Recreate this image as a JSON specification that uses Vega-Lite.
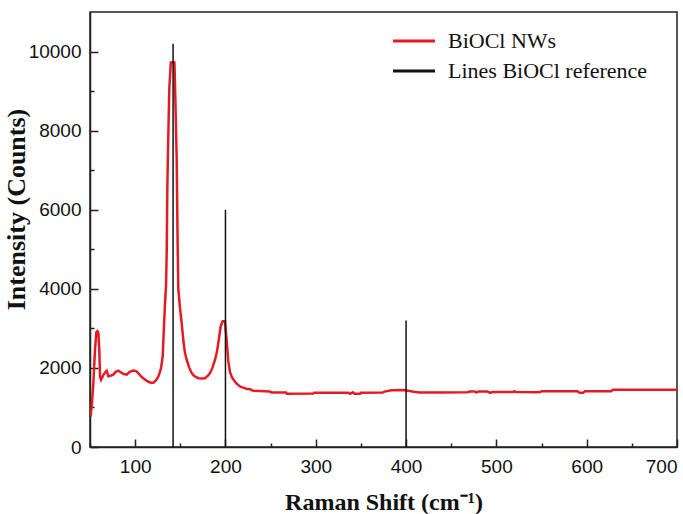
{
  "$schema": "https://vega.github.io/schema/vega-lite/v6.json",
  "width": 587,
  "height": 435,
  "autosize": {"type": "none"},
  "padding": {"left": 90, "top": 12, "right": 6, "bottom": 67},
  "background": "white",
  "config": {
    "view": {"stroke": "#222", "strokeWidth": 1.5},
    "axis": {
      "domainColor": "#222",
      "domainWidth": 1.5,
      "tickColor": "#222",
      "tickWidth": 1.5,
      "grid": false,
      "labelFont": "Liberation Sans",
      "labelFontSize": 19,
      "labelColor": "#111",
      "titleFont": "Liberation Serif",
      "titleFontWeight": "bold",
      "titleColor": "#111"
    },
    "legend": {
      "orient": "none",
      "legendX": 312,
      "legendY": 17,
      "labelFont": "Liberation Serif",
      "labelFontSize": 22,
      "labelColor": "#111",
      "labelLimit": 0,
      "labelOffset": 22,
      "symbolType": "M-2,0H2",
      "symbolSize": 441,
      "symbolStrokeWidth": 3,
      "rowPadding": 7,
      "title": null
    }
  },
  "datasets": {
    "spectrum": [
      {"x": 50.5, "y": 770}, {"x": 51.9, "y": 1020}, {"x": 53.7, "y": 1610}, {"x": 55.5, "y": 2450},
      {"x": 57.0, "y": 2900}, {"x": 58.2, "y": 2930}, {"x": 59.3, "y": 2880}, {"x": 60.3, "y": 2450},
      {"x": 61.1, "y": 1780}, {"x": 62.2, "y": 1700}, {"x": 63.5, "y": 1760}, {"x": 64.7, "y": 1820},
      {"x": 66.5, "y": 1880}, {"x": 68.5, "y": 1930}, {"x": 70.3, "y": 1790}, {"x": 72.5, "y": 1800},
      {"x": 75.8, "y": 1830}, {"x": 78.5, "y": 1900}, {"x": 81.3, "y": 1930}, {"x": 84, "y": 1890},
      {"x": 87, "y": 1850}, {"x": 90.6, "y": 1830}, {"x": 94, "y": 1900}, {"x": 97.9, "y": 1935},
      {"x": 101, "y": 1920}, {"x": 103.5, "y": 1870}, {"x": 106, "y": 1800}, {"x": 109, "y": 1740},
      {"x": 112, "y": 1690}, {"x": 114.6, "y": 1650}, {"x": 118.3, "y": 1620}, {"x": 120.5, "y": 1630},
      {"x": 122, "y": 1660}, {"x": 124, "y": 1720}, {"x": 125.6, "y": 1780}, {"x": 127, "y": 1870},
      {"x": 128.6, "y": 1990}, {"x": 130.5, "y": 2290}, {"x": 131.9, "y": 3050}, {"x": 133, "y": 3600},
      {"x": 134.2, "y": 4100}, {"x": 135, "y": 5000}, {"x": 135.6, "y": 6500}, {"x": 136.2, "y": 7290},
      {"x": 137.8, "y": 9060}, {"x": 139.5, "y": 9720}, {"x": 143.5, "y": 9720}, {"x": 144.5, "y": 8810},
      {"x": 146, "y": 7290}, {"x": 147, "y": 5200}, {"x": 147.8, "y": 4000}, {"x": 149.5, "y": 3550},
      {"x": 151.5, "y": 3130}, {"x": 153.3, "y": 2710}, {"x": 155, "y": 2400}, {"x": 157.1, "y": 2200},
      {"x": 160, "y": 2000}, {"x": 162.6, "y": 1870}, {"x": 165, "y": 1800}, {"x": 170, "y": 1740},
      {"x": 174, "y": 1735}, {"x": 177.3, "y": 1740}, {"x": 180, "y": 1790}, {"x": 182.9, "y": 1870},
      {"x": 185.5, "y": 2000}, {"x": 188.4, "y": 2200}, {"x": 190.5, "y": 2400}, {"x": 192.1, "y": 2630},
      {"x": 194.7, "y": 3050}, {"x": 196.9, "y": 3180}, {"x": 199.5, "y": 3180}, {"x": 200.5, "y": 2900},
      {"x": 201.3, "y": 2710}, {"x": 203.1, "y": 2170}, {"x": 205, "y": 1900}, {"x": 206.9, "y": 1780},
      {"x": 209.5, "y": 1680}, {"x": 212.4, "y": 1600}, {"x": 216, "y": 1530}, {"x": 219.7, "y": 1500},
      {"x": 223, "y": 1475}, {"x": 227.2, "y": 1460}, {"x": 230.8, "y": 1420}, {"x": 249, "y": 1405},
      {"x": 251, "y": 1380}, {"x": 267, "y": 1380}, {"x": 268, "y": 1345}, {"x": 297, "y": 1350},
      {"x": 298, "y": 1370}, {"x": 336, "y": 1370}, {"x": 338, "y": 1345}, {"x": 341, "y": 1385},
      {"x": 343, "y": 1345}, {"x": 349, "y": 1345}, {"x": 350, "y": 1370}, {"x": 374, "y": 1375},
      {"x": 376, "y": 1400}, {"x": 384, "y": 1435}, {"x": 398, "y": 1440}, {"x": 402, "y": 1425},
      {"x": 408, "y": 1395}, {"x": 415, "y": 1380}, {"x": 437, "y": 1380}, {"x": 468, "y": 1385},
      {"x": 470.8, "y": 1405}, {"x": 476, "y": 1405}, {"x": 478, "y": 1375}, {"x": 480, "y": 1405},
      {"x": 490, "y": 1405}, {"x": 493, "y": 1370}, {"x": 496, "y": 1390}, {"x": 518, "y": 1390},
      {"x": 520, "y": 1405}, {"x": 522, "y": 1390}, {"x": 548, "y": 1385}, {"x": 550, "y": 1410},
      {"x": 590, "y": 1410}, {"x": 592, "y": 1370}, {"x": 596, "y": 1370}, {"x": 598, "y": 1410},
      {"x": 627, "y": 1410}, {"x": 629, "y": 1445}, {"x": 700, "y": 1445}
    ],
    "refs": [
      {"x": 142, "y": 10200},
      {"x": 200, "y": 6000},
      {"x": 400, "y": 3200}
    ]
  },
  "resolve": {"axis": {"x": "independent", "y": "independent"}},
  "layer": [
    {
      "data": {"name": "spectrum"},
      "mark": {"type": "line", "strokeWidth": 2.5, "clip": true},
      "encoding": {
        "x": {
          "field": "x", "type": "quantitative",
          "scale": {"domain": [50, 700], "nice": false, "zero": false},
          "axis": {
            "orient": "bottom",
            "values": [100, 200, 300, 400, 500, 600, 700],
            "tickSize": -8,
            "labelPadding": 18,
            "labelFlush": true,
            "labelFlushOffset": 0,
            "title": "Raman Shift (cm⁻¹)",
            "titleFontSize": 24,
            "titleBaseline": "alphabetic",
            "titleY": 62
          }
        },
        "y": {
          "field": "y", "type": "quantitative",
          "scale": {"domain": [0, 11000], "nice": false},
          "axis": {
            "orient": "left",
            "values": [0, 2000, 4000, 6000, 8000, 10000],
            "format": "d",
            "tickSize": -8,
            "labelPadding": 17,
            "labelFlush": false,
            "title": "Intensity (Counts)",
            "titleFontSize": 26,
            "titleAngle": 270,
            "titleBaseline": "bottom",
            "titleX": -61,
            "titleY": 197
          }
        },
        "color": {
          "datum": "BiOCl NWs",
          "type": "nominal",
          "scale": {"domain": ["BiOCl NWs", "Lines BiOCl reference"], "range": ["#e31b23", "#111111"]}
        }
      }
    },
    {
      "data": {"name": "refs"},
      "mark": {"type": "rule", "strokeWidth": 1.5},
      "encoding": {
        "x": {
          "field": "x", "type": "quantitative",
          "axis": {
            "orient": "bottom",
            "values": [50, 150, 250, 350, 450, 550, 650],
            "tickSize": -4,
            "labels": false,
            "domain": false,
            "title": null
          }
        },
        "y": {
          "field": "y", "type": "quantitative",
          "axis": {
            "orient": "left",
            "values": [1000, 3000, 5000, 7000, 9000],
            "tickSize": -4,
            "labels": false,
            "domain": false,
            "title": null
          }
        },
        "y2": {"datum": 0},
        "color": {
          "datum": "Lines BiOCl reference",
          "type": "nominal"
        }
      }
    }
  ]
}
